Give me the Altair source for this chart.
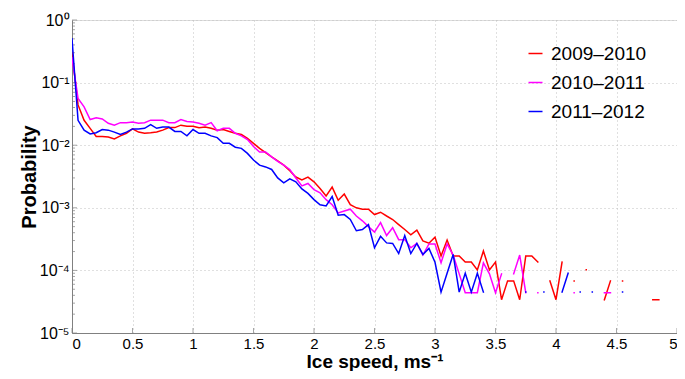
import altair as alt
import pandas as pd

# bin step 0.05 m/s, bins 0 .. 97
speed = [round(i * 0.05, 2) for i in range(98)]

series_names = ["2009–2010", "2010–2011", "2011–2012"]
series_colors = ["#ff0000", "#ff00ff", "#0000ff"]

N = None
p_2009 = [
    0.30, 0.044, 0.025, 0.0186, 0.0138, 0.0138, 0.0135, 0.0126, 0.0141, 0.0155,
    0.0182, 0.0162, 0.0155, 0.0158, 0.0162, 0.0174, 0.0191, 0.0191, 0.0209, 0.020,
    0.020, 0.019, 0.0195, 0.0186, 0.0174, 0.0178, 0.0166, 0.0155, 0.0148, 0.0129,
    0.0107, 0.0089, 0.0076, 0.0065, 0.0056, 0.0048, 0.0039, 0.0031, 0.0028, 0.0031,
    0.0026, 0.00204, 0.00155, 0.00214, 0.00132, 0.00166, 0.00112, 0.00100, 0.00095, 0.00095,
    0.00078, 0.00085, 0.00074, 0.00065, 0.00054, 0.00045, 0.00037, 0.00044, 0.000295, 0.000272,
    0.00034, 0.00017, 0.000306, 0.00017, 0.00017, 0.000136, 0.000136, 0.000102, 0.000204, 0.000102,
    0.000136, 0.000034, 0.000068, 0.000068, 0.000034, 0.00017, 0.00017, 0.000136, N, 0.000068,
    0.000034, 0.000136, N, 0.000068, N, 0.000102, N, N, 0.000034, 0.000068,
    N, 0.000068, N, N, N, N, 0.000034, 0.000034,
]
p_2010 = [
    0.25, 0.056, 0.041, 0.0257, 0.0275, 0.0263, 0.0224, 0.0209, 0.0229, 0.0229,
    0.0234, 0.0224, 0.0229, 0.0251, 0.0251, 0.0251, 0.0229, 0.0229, 0.0257, 0.024,
    0.0234, 0.0224, 0.0209, 0.0229, 0.017, 0.0186, 0.0186, 0.0155, 0.0141, 0.0123,
    0.0095, 0.0078, 0.0078, 0.0065, 0.0055, 0.0048, 0.0041, 0.0030, 0.00224, 0.00245,
    0.00195, 0.00174, 0.00135, 0.00112, 0.00083, 0.00089, 0.00095, 0.00074, 0.00062, 0.00050,
    0.00041, 0.00058, 0.00036, 0.00048, 0.00031, 0.00031, 0.00023, 0.00027, 0.000176, 0.000264,
    0.000264, 0.000132, 0.000264, 0.000176, 0.000088, 0.000044, 0.000044, 0.000044, 0.000132, 0.000088,
    0.000044, 0.000088, N, 0.000088, 0.000176, 0.000044, N, 0.000044, N, N,
    N, N, N, 0.000044, N, N, N, N, 0.000044, 0.000044,
    N, N, N, N, N, N, N, N,
]
p_2011 = [
    0.50, 0.025, 0.0174, 0.0151, 0.0158, 0.0178, 0.0174, 0.0162, 0.0148, 0.0162,
    0.0182, 0.0182, 0.0186, 0.0214, 0.0186, 0.0195, 0.0195, 0.0166, 0.0166, 0.0141,
    0.0178, 0.0155, 0.0155, 0.0141, 0.0132, 0.0107, 0.0107, 0.0093, 0.0089, 0.0074,
    0.0058, 0.0048, 0.0045, 0.0041, 0.0030, 0.0025, 0.0029, 0.0026, 0.0020, 0.0017,
    0.00135, 0.00112, 0.00107, 0.00151, 0.00076, 0.00078, 0.00065, 0.00043, 0.00045, 0.00054,
    0.00023, 0.00035, 0.000275, 0.00027, 0.000186, 0.00036, 0.000186, 0.00027, 0.00018, 0.000225,
    0.000135, 0.000045, 0.00009, 0.00018, 0.000045, 0.00009, 0.000045, 0.00009, 0.000045, N,
    N, N, N, N, N, 0.000045, N, N, 0.000045, N,
    N, 0.000045, 0.00009, N, 0.000045, N, 0.000045, N, N, N,
    N, 0.000045, N, N, N, N, N, N,
]

x_ticks = [0, 0.5, 1, 1.5, 2, 2.5, 3, 3.5, 4, 4.5, 5]
y_ticks = [1e-5, 1e-4, 1e-3, 1e-2, 1e-1, 1]
y_minor = [m * 10.0 ** e for e in range(-5, 0) for m in range(2, 10)]

rows = []
for name, vals in zip(series_names, [p_2009, p_2010, p_2011]):
    for k, (s, v) in enumerate(zip(speed, vals)):
        rows.append({"speed": s, "series": name, "p": v, "order": k})
df = pd.DataFrame(rows)

W, H = 605, 313
FONT = "Liberation Sans"

xscale = alt.Scale(domain=[0, 5], nice=False)
yscale = alt.Scale(type="log", domain=[1e-5, 1], nice=False)

lines = alt.Chart(df).mark_line(strokeWidth=1.5, strokeCap="square", clip=True).encode(
    x=alt.X("speed:Q", scale=xscale,
            axis=alt.Axis(values=x_ticks, labelExpr="'' + datum.value",
                          title="Ice speed, ms⁻¹", grid=True, gridDash=[1, 3],
                          gridColor="#c0c0c0", domainColor="#808080", ticks=False,
                          labelFontSize=15, labelPadding=3, titleFontSize=19,
                          titleFontWeight="bold", titlePadding=1, labelFont=FONT,
                          titleFont=FONT, labelColor="#000", titleColor="#000")),
    y=alt.Y("p:Q", scale=yscale,
            axis=alt.Axis(values=y_ticks,
                          labelExpr="['10⁰','10⁻¹','10⁻²','10⁻³','10⁻⁴','10⁻⁵'][round(-log(datum.value)/LN10)]",
                          title="Probability", grid=True, gridDash=[1, 3],
                          gridColor="#c0c0c0", domainColor="#808080", ticks=False,
                          labelFontSize=16, labelPadding=3, titleFontSize=20,
                          titleFontWeight="bold", titlePadding=0, labelFont=FONT,
                          titleFont=FONT, labelColor="#000", titleColor="#000")),
    color=alt.Color("series:N", scale=alt.Scale(domain=series_names, range=series_colors),
                    legend=alt.Legend(title=None, orient="none", legendX=454, legendY=24,
                                      symbolType="stroke", symbolSize=196,
                                      symbolStrokeWidth=1.5, labelFontSize=19,
                                      labelFont=FONT, labelColor="#000",
                                      labelOffset=6, rowPadding=9, padding=0)),
    order=alt.Order("order:Q"),
)

ytick_df = pd.DataFrame({"v": y_minor})
ymaj_df = pd.DataFrame({"v": y_ticks})
xtick_df = pd.DataFrame({"v": x_ticks})

yminor_marks = alt.Chart(ytick_df).mark_tick(orient="horizontal", size=3, thickness=1,
                                             color="#808080").encode(
    y=alt.Y("v:Q", scale=yscale), x=alt.value(1.5))
ymajor_marks = alt.Chart(ymaj_df).mark_tick(orient="horizontal", size=5, thickness=1,
                                            color="#808080").encode(
    y=alt.Y("v:Q", scale=yscale), x=alt.value(2.5))
xmajor_marks = alt.Chart(xtick_df).mark_tick(orient="vertical", size=5, thickness=1,
                                             color="#808080").encode(
    x=alt.X("v:Q", scale=xscale), y=alt.value(H - 2.5))

chart = alt.layer(yminor_marks, ymajor_marks, xmajor_marks, lines).properties(
    width=W, height=H,
    padding={"left": 64, "top": 12, "right": 0, "bottom": 38},
    autosize=alt.AutoSizeParams(type="none"),
).configure_view(strokeWidth=0).configure(background="white")

chart.save("out.html", embed_options={"renderer": "svg", "actions": False})
